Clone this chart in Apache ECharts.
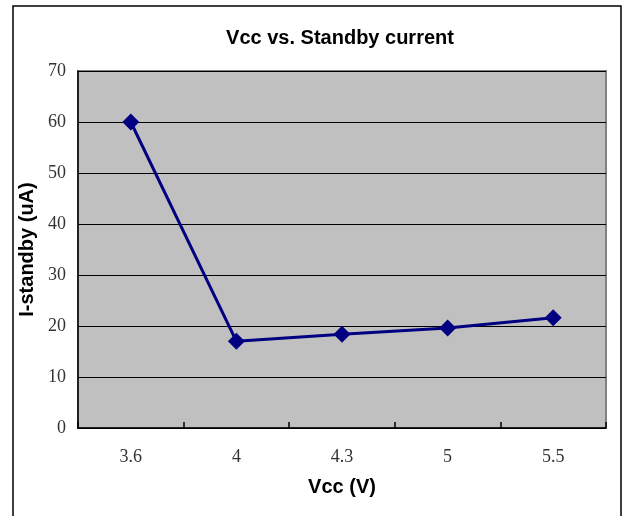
<!DOCTYPE html>
<html><head><meta charset="utf-8">
<script src="https://cdn.jsdelivr.net/npm/echarts@6/dist/echarts.min.js"></script>
<style>html,body{margin:0;padding:0;background:#fff}#c{width:623px;height:516px}</style>
</head><body><div id="c"></div>
<script>
const categories = ['3.6', '4', '4.3', '5', '5.5'];
const standby = [60, 17, 18.4, 19.6, 21.6];
const yTicks = { min: 0, max: 70, interval: 10 };

const chart = echarts.init(document.getElementById('c'), null, { renderer: 'canvas' });
chart.setOption({
  animation: false,
  backgroundColor: '#fff',
  title: {
    text: 'Vcc vs. Standby current',
    left: 335, top: 23, textAlign: 'center',
    textStyle: { fontFamily: 'Liberation Sans, Arial, sans-serif', fontWeight: 'bold', fontSize: 20, color: '#000' }
  },
  graphic: [{
    type: 'rect', shape: { x: 13, y: 6, width: 608, height: 520 },
    style: { fill: 'none', stroke: '#000', lineWidth: 1.5 }, silent: true, z: -1
  }],
  grid: {
    left: 78, top: 71, right: 17, bottom: 88,
    show: true, backgroundColor: '#C0C0C0', borderColor: '#808080', borderWidth: 2
  },
  xAxis: {
    type: 'category', data: categories, boundaryGap: true,
    name: 'Vcc (V)', nameLocation: 'middle', nameGap: 49,
    nameTextStyle: { fontFamily: 'Liberation Sans, Arial, sans-serif', fontWeight: 'bold', fontSize: 20, color: '#000' },
    axisLine: { lineStyle: { color: '#000', width: 1.5 } },
    axisTick: { show: true, inside: true, length: 6, lineStyle: { color: '#000', width: 1.5 } },
    axisLabel: { margin: 20, fontFamily: 'Liberation Serif, Times New Roman, serif', fontSize: 18, color: '#333' },
    splitLine: { show: false }
  },
  yAxis: {
    type: 'value', min: yTicks.min, max: yTicks.max, interval: yTicks.interval,
    name: 'I-standby (uA)', nameLocation: 'middle', nameGap: 32, nameRotate: 90,
    nameTextStyle: { fontFamily: 'Liberation Sans, Arial, sans-serif', fontWeight: 'bold', fontSize: 20, color: '#000' },
    axisLine: { show: true, lineStyle: { color: '#000', width: 1.5 } },
    axisTick: { show: false },
    axisLabel: { margin: 12, fontFamily: 'Liberation Serif, Times New Roman, serif', fontSize: 18, color: '#333' },
    splitLine: { show: true, lineStyle: { color: '#000', width: 1 } }
  },
  series: [{
    type: 'line', data: standby,
    symbol: 'diamond', symbolSize: 17,
    itemStyle: { color: '#000080' },
    lineStyle: { color: '#000080', width: 3 }
  }]
});
</script></body></html>
